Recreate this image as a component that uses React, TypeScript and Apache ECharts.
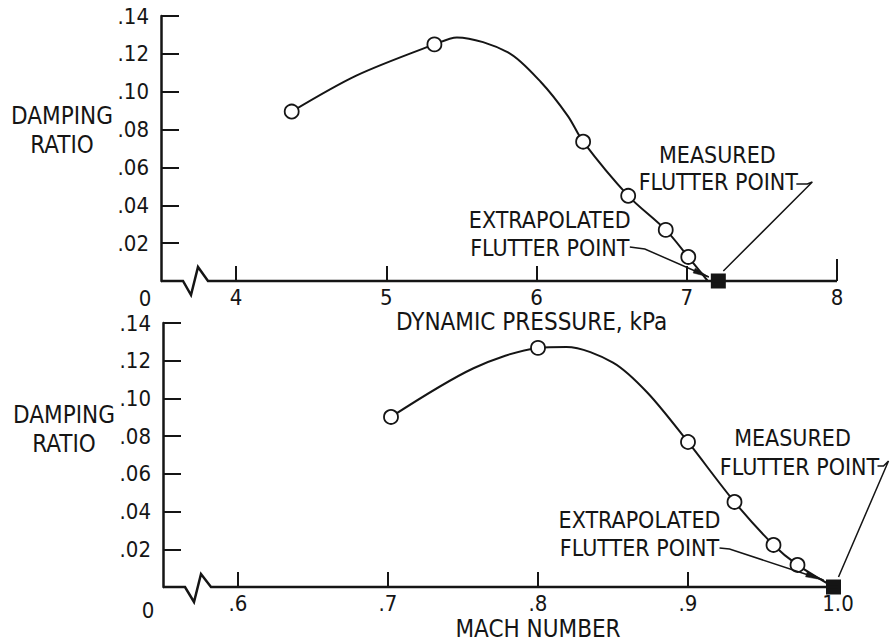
import React, { useEffect, useRef } from 'react';
import * as echarts from 'echarts';

const FONT = "'Liberation Sans Narrow', 'DejaVu Sans Condensed', 'Arial Narrow', sans-serif";
const INK = '#151515';

// ---------- shared y axis (damping ratio) ----------
const dampingTicks = [0, 0.02, 0.04, 0.06, 0.08, 0.1, 0.12, 0.14];
const dampingTickLabels = ['', '.02', '.04', '.06', '.08', '.10', '.12', '.14'];

// ---------- top panel: dynamic pressure, kPa ----------
const pressureMin = 3.5;
const pressureMax = 8;
const pressureTicks = [4, 5, 6, 7, 8];
const pressureTickLabels = ['4', '5', '6', '7', '8'];
const pressureX = [4.37, 5.32, 6.31, 6.61, 6.86, 7.01];
const pressureY = [0.0895, 0.125, 0.0736, 0.045, 0.027, 0.0127];
const pressureCurveX = [4.37, 4.8, 5.32, 5.47, 5.81, 6.03, 6.21, 6.31, 6.61, 6.86, 7.01, 7.14];
const pressureCurveY = [0.0895, 0.1085, 0.125, 0.1287, 0.1208, 0.105, 0.087, 0.0736, 0.045, 0.027, 0.0127, 0];
const pressureMeasured = [7.21, 0];
const pressureExtrapolated = [7.14, 0];

// ---------- bottom panel: Mach number ----------
const machMin = 0.55;
const machMax = 1.0;
const machTicks = [0.6, 0.7, 0.8, 0.9];
const machLabelValues = [0.6, 0.7, 0.8, 0.9, 1.0];
const machTickLabels = ['.6', '.7', '.8', '.9', '1.0'];
const machX = [0.702, 0.8, 0.9, 0.931, 0.957, 0.973];
const machY = [0.0902, 0.1268, 0.0769, 0.0451, 0.0223, 0.0117];
const machCurveX = [0.702, 0.757, 0.8, 0.819, 0.85, 0.873, 0.9, 0.931, 0.957, 0.973, 0.997];
const machCurveY = [0.0902, 0.116, 0.1268, 0.1273, 0.119, 0.103, 0.0769, 0.0451, 0.0223, 0.0117, 0];
const machMeasured = [0.997, 0];

const zip = (xs: number[], ys: number[]) => xs.map((x, i) => [x, ys[i]]);

const lookup = (values: number[], labels: string[]) => (v: number) => {
  const i = values.findIndex((t) => Math.abs(t - v) < 1e-6);
  return i >= 0 ? labels[i] : '';
};

function yAxis(gridIndex: number) {
  return {
    type: 'value',
    gridIndex,
    min: 0,
    max: 0.14,
    interval: 0.02,
    axisLine: { show: true, onZero: false, lineStyle: { color: INK, width: 2.5 } },
    axisTick: { show: true, inside: true, length: 18, lineStyle: { color: INK, width: 2 } },
    splitLine: { show: false },
    axisLabel: {
      margin: 12,
      color: INK,
      fontFamily: FONT,
      fontSize: 22,
      formatter: lookup(dampingTicks, dampingTickLabels),
    },
  };
}

function xAxis(gridIndex: number, min: number, max: number, ticks: number[], labelValues: number[], labels: string[], margin: number) {
  return {
    type: 'value',
    gridIndex,
    min,
    max,
    axisLine: { show: false, onZero: false },
    axisTick: { show: true, inside: true, length: 15, customValues: ticks, lineStyle: { color: INK, width: 2 } },
    splitLine: { show: false },
    axisLabel: {
      margin,
      color: INK,
      fontFamily: FONT,
      fontSize: 22,
      customValues: labelValues,
      formatter: lookup(labelValues, labels),
    },
  };
}

function panelSeries(idx: number, curve: number[][], pts: number[][], measured: number[]) {
  return [
    {
      type: 'line',
      xAxisIndex: idx,
      yAxisIndex: idx,
      data: curve,
      smooth: 0.3,
      showSymbol: false,
      symbol: 'none',
      lineStyle: { color: INK, width: 2 },
      z: 2,
      silent: true,
    },
    {
      type: 'scatter',
      xAxisIndex: idx,
      yAxisIndex: idx,
      data: pts,
      symbol: 'circle',
      symbolSize: 14,
      itemStyle: { color: '#ffffff', borderColor: INK, borderWidth: 1.8, opacity: 1 },
      z: 3,
      silent: true,
    },
    {
      type: 'scatter',
      xAxisIndex: idx,
      yAxisIndex: idx,
      data: [measured],
      symbol: 'rect',
      symbolSize: 15,
      itemStyle: { color: INK, opacity: 1 },
      z: 4,
      silent: true,
    },
  ];
}

function txt(x: number, y: number, text: string, size = 23, lineHeight?: number) {
  return {
    type: 'text',
    x,
    y,
    z: 100,
    silent: true,
    style: {
      text,
      fill: INK,
      fontFamily: FONT,
      fontSize: size,
      lineHeight: lineHeight || size,
      align: 'center',
      verticalAlign: 'middle',
      textAlign: 'center',
      textVerticalAlign: 'middle',
    },
  };
}

function poly(points: number[][], width = 1.5) {
  return {
    type: 'polyline',
    z: 100,
    silent: true,
    shape: { points },
    style: { stroke: INK, lineWidth: width, fill: null },
  };
}

function arrowHead(tip: number[], from: number[], len: number, hw: number) {
  const dx = tip[0] - from[0];
  const dy = tip[1] - from[1];
  const d = Math.hypot(dx, dy);
  const ux = dx / d;
  const uy = dy / d;
  const bx = tip[0] - ux * len;
  const by = tip[1] - uy * len;
  return {
    type: 'polygon',
    z: 101,
    silent: true,
    shape: { points: [tip, [bx - uy * hw, by + ux * hw], [bx + uy * hw, by - ux * hw]] },
    style: { fill: INK, stroke: INK, lineWidth: 0.5 },
  };
}

function buildGraphics(chart: any) {
  const px = (g: number, v: number[]) => chart.convertToPixel({ gridIndex: g }, v) as number[];
  const els: any[] = [];

  // --- top panel ---
  {
    const a0 = px(0, [pressureMin, 0]);
    const a1 = px(0, [pressureMax, 0]);
    const [x0, y0] = a0;
    els.push(
      poly([[x0, y0], [x0 + 22, y0], [x0 + 30, y0 + 14], [x0 + 37, y0 - 14], [x0 + 47, y0], [a1[0], y0]], 2.5)
    );
    // taller end tick at 8
    els.push(poly([[a1[0], y0], [a1[0], y0 - 22]], 2));
    els.push(txt(x0 - 16, y0 + 17, '0', 22));
    const yMid = px(0, [pressureMin, 0.0795]);
    els.push(txt(x0 - 99, yMid[1], 'DAMPING\nRATIO', 24, 29));
    const t6 = px(0, [6, 0]);
    els.push(txt(t6[0] - 5, y0 + 41, 'DYNAMIC PRESSURE, kPa', 24));

    const S = px(0, pressureMeasured);
    els.push(txt(S[0] - 1, S[1] - 126, 'MEASURED'));
    els.push(txt(S[0], S[1] - 99, 'FLUTTER POINT'));
    els.push(poly([[S[0] + 78, S[1] - 97], [S[0] + 89, S[1] - 97], [S[0] + 94, S[1] - 99], [S[0] + 5, S[1] - 10]]));

    const E = px(0, pressureExtrapolated);
    els.push(txt(E[0] - 158, E[1] - 61, 'EXTRAPOLATED'));
    els.push(txt(E[0] - 158, E[1] - 33, 'FLUTTER POINT'));
    const from = [E[0] - 63, E[1] - 32];
    const tip = [E[0] + 1, E[1] - 4];
    els.push(poly([[E[0] - 78, E[1] - 34], from, tip]));
    els.push(arrowHead(tip, from, 16, 2.6));
  }

  // --- bottom panel ---
  {
    const a0 = px(1, [machMin, 0]);
    const a1 = px(1, [machMax, 0]);
    const [x0, y0] = a0;
    els.push(
      poly([[x0, y0], [x0 + 22, y0], [x0 + 31, y0 + 15], [x0 + 38, y0 - 13], [x0 + 48, y0], [a1[0], y0]], 2.5)
    );
    els.push(txt(x0 - 15, y0 + 23, '0', 22));
    const yMid = px(1, [machMin, 0.0833]);
    els.push(txt(x0 - 99, yMid[1], 'DAMPING\nRATIO', 24, 29));
    const t8 = px(1, [0.8, 0]);
    els.push(txt(t8[0], y0 + 42, 'MACH NUMBER', 24));

    const S = px(1, machMeasured);
    els.push(txt(S[0] - 41, S[1] - 149, 'MEASURED'));
    els.push(txt(S[0] - 34, S[1] - 120, 'FLUTTER POINT'));
    els.push(poly([[S[0] + 44, S[1] - 121], [S[0] + 50, S[1] - 121], [S[0] + 55, S[1] - 126], [S[0] + 5, S[1] - 10]]));

    els.push(txt(S[0] - 194, S[1] - 67, 'EXTRAPOLATED'));
    els.push(txt(S[0] - 194, S[1] - 39, 'FLUTTER POINT'));
    const from = [S[0] - 104, S[1] - 38];
    const tip = [S[0] - 10, S[1] - 7];
    els.push(poly([[S[0] - 114, S[1] - 39], from, tip]));
    els.push(arrowHead(tip, from, 18, 2.6));
  }
  return els;
}

export default function App() {
  const ref = useRef<HTMLDivElement>(null);

  useEffect(() => {
    document.body.style.margin = '0';
    if (!ref.current) return;
    const chart = echarts.init(ref.current, undefined, { renderer: 'svg' });
    const option: any = {
      animation: false,
      backgroundColor: '#ffffff',
      grid: [
        { left: 161, top: 16, width: 676, height: 265 },
        { left: 163, top: 323, width: 675, height: 264 },
      ],
      xAxis: [
        xAxis(0, pressureMin, pressureMax, pressureTicks, pressureTicks, pressureTickLabels, 5),
        xAxis(1, machMin, machMax, machTicks, machLabelValues, machTickLabels, 5),
      ],
      yAxis: [yAxis(0), yAxis(1)],
      series: [
        ...panelSeries(0, zip(pressureCurveX, pressureCurveY), zip(pressureX, pressureY), pressureMeasured),
        ...panelSeries(1, zip(machCurveX, machCurveY), zip(machX, machY), machMeasured),
      ],
    };
    chart.setOption(option);
    chart.setOption({ graphic: buildGraphics(chart) });
    return () => chart.dispose();
  }, []);

  return <div ref={ref} style={{ width: 890, height: 643 }} />;
}
